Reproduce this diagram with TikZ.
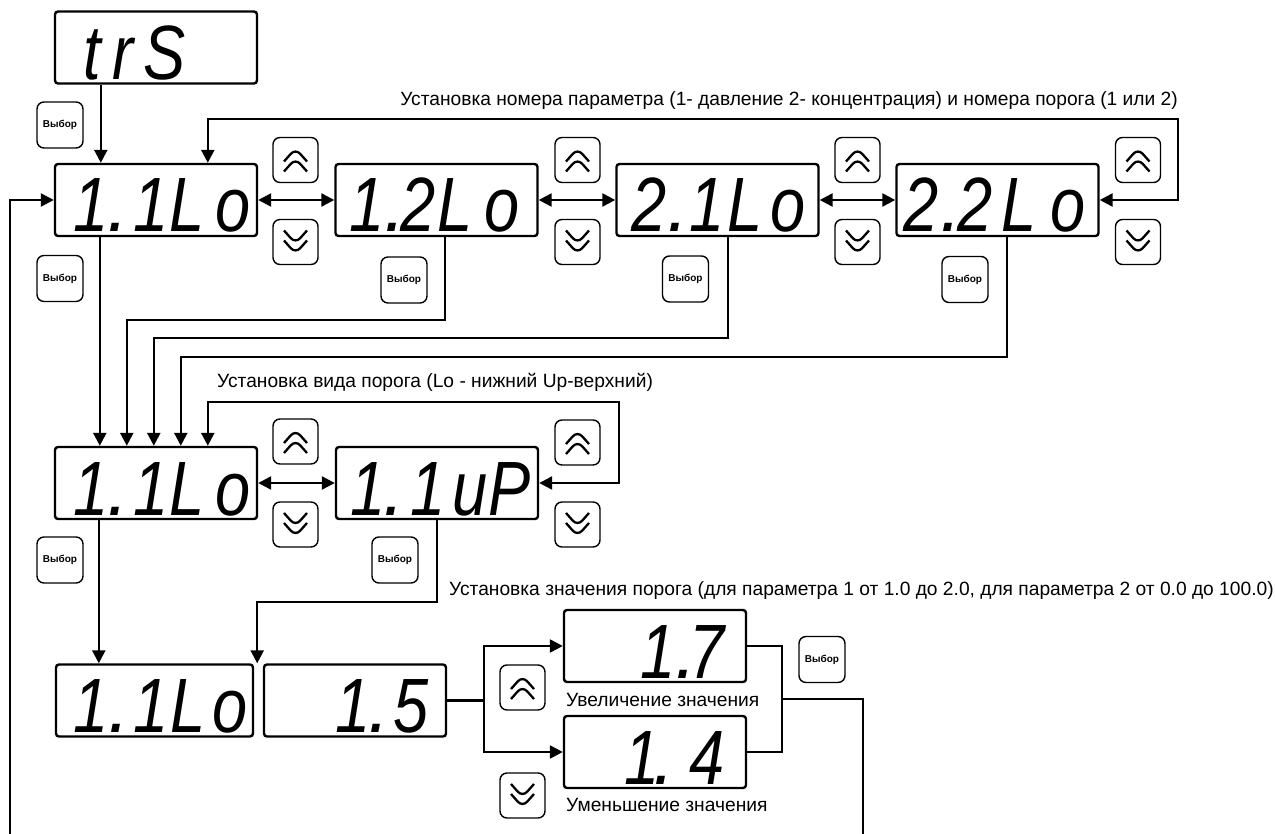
\documentclass[tikz,border=0pt]{standalone}
\usepackage{graphicx}
\usepackage{fontspec}
\setmainfont{Liberation Sans}
\newfontfamily\segfamily{Liberation Sans}
\usetikzlibrary{arrows.meta,calc}
% seven-segment style text: each glyph ends at a given x (pt) inside the display
\newcommand\sgat[2]{\rlap{\hspace*{#1pt}\llap{\scalebox{0.82}[1]{#2}}}}
\newcommand\sgdot[1]{\rlap{\hspace*{#1pt}\llap{.}}}
\newcommand\dtext[2]{\makebox[#1pt][l]{#2}}
\begin{document}
\begin{tikzpicture}[x=1pt,y=-1pt,
  disp/.style={draw, line width=2.4pt, rounded corners=3pt, minimum height=72pt, inner sep=0pt,
    text height=64pt, text depth=0pt, font=\segfamily\itshape\fontsize{77}{77}\selectfont},
  vbtn/.style={draw, line width=1.4pt, rounded corners=7pt, minimum width=46pt, minimum height=46pt,
    inner sep=0pt, font=\bfseries\fontsize{10}{10}\selectfont},
  abtn/.style={draw, line width=1.4pt, rounded corners=7pt, minimum width=45pt, minimum height=45pt, inner sep=0pt},
  upbtn/.style={abtn, path picture={
    \draw[line width=2.3pt] ($(path picture bounding box.center)+(-11.5,1.5)$) -- ++(11.5,-13) -- ++(11.5,13);
    \draw[line width=2.3pt] ($(path picture bounding box.center)+(-11.5,11.5)$) -- ++(11.5,-13) -- ++(11.5,13);}},
  dnbtn/.style={abtn, path picture={
    \draw[line width=2.3pt] ($(path picture bounding box.center)+(-11.5,-1.5)$) -- ++(11.5,13) -- ++(11.5,-13);
    \draw[line width=2.3pt] ($(path picture bounding box.center)+(-11.5,-11.5)$) -- ++(11.5,13) -- ++(11.5,-13);}},
  conn/.style={line width=2.4pt},
  arr/.style={conn, -{Triangle[length=13pt,width=13pt]}},
  darr/.style={conn, {Triangle[length=13pt,width=13pt]}-{Triangle[length=13pt,width=13pt]}},
  lbl/.style={font=\fontsize{19.2}{19.2}\selectfont, inner sep=0pt}
]
\useasboundingbox (0,0) rectangle (1275,834);
\fill[white] (0,0) rectangle (1275,834);

% displays
\node[disp, minimum width=202pt] (trs) at (156,47.5)
  {\dtext{202}{\sgat{46}{t}\sgat{79}{r}\sgat{131}{S}}};
\node[disp, minimum width=202pt] (a1) at (156,200)
  {\dtext{202}{\sgat{54}{1}\sgdot{73.5}\sgat{114}{1}\sgat{150}{L}\sgat{196}{o}}};
\node[disp, minimum width=202pt] (b1) at (436.5,200)
  {\dtext{202}{\sgat{49}{1}\sgdot{70}\sgat{100}{2}\sgat{137}{L}\sgat{184}{o}}};
\node[disp, minimum width=202pt] (c1) at (717.5,200)
  {\dtext{202}{\sgat{50}{2}\sgdot{72.5}\sgat{108}{1}\sgat{146}{L}\sgat{189}{o}}};
\node[disp, minimum width=202pt] (d1) at (997.5,200)
  {\dtext{202}{\sgat{42}{2}\sgdot{65}\sgat{96}{2}\sgat{140}{L}\sgat{189}{o}}};
\node[disp, minimum width=202pt] (a2) at (156,483)
  {\dtext{202}{\sgat{54}{1}\sgdot{73.5}\sgat{114}{1}\sgat{150}{L}\sgat{196}{o}}};
\node[disp, minimum width=202pt] (b2) at (437,483)
  {\dtext{202}{\sgat{50}{1}\sgdot{69}\sgat{110}{1}\sgat{152}{u}\sgat{195}{P}}};
\node[disp, minimum width=197pt] (a3) at (154.5,700.5)
  {\dtext{197}{\sgat{53}{1}\sgdot{73.5}\sgat{113}{1}\sgat{150}{L}\sgat{192}{o}}};
\node[disp, minimum width=182pt] (b3) at (355,700.5)
  {\dtext{182}{\sgat{107}{1}\sgdot{126}\sgat{165}{5}}};
\node[disp, minimum width=182pt] (c3) at (655,646)
  {\dtext{182}{\sgat{112}{1}\sgdot{133}\sgat{161}{7}}};
\node[disp, minimum width=182pt] (d3) at (655,752)
  {\dtext{182}{\sgat{96}{1}\sgdot{111}\sgat{161}{4}}};

% select buttons
\node[vbtn] (s0) at (60,125) {Выбор};
\node[vbtn] (s1) at (60,278.5) {Выбор};
\node[vbtn] (s2) at (404,280) {Выбор};
\node[vbtn] (s3) at (685.5,279) {Выбор};
\node[vbtn] (s4) at (965,279.5) {Выбор};
\node[vbtn] (s5) at (60,560) {Выбор};
\node[vbtn] (s6) at (395,560) {Выбор};
\node[vbtn] (s7) at (822,659.5) {Выбор};

% up / down buttons
\node[upbtn] (u1) at (295.5,160) {};
\node[upbtn] (u2) at (577.5,160) {};
\node[upbtn] (u3) at (857.5,160) {};
\node[upbtn] (u4) at (1138,160) {};
\node[dnbtn] (v1) at (295.5,242) {};
\node[dnbtn] (v2) at (577.5,242) {};
\node[dnbtn] (v3) at (857.5,242) {};
\node[dnbtn] (v4) at (1138,242) {};
\node[upbtn] (u5) at (295.5,441.5) {};
\node[upbtn] (u6) at (577.5,442.5) {};
\node[dnbtn] (v5) at (295.5,524.5) {};
\node[dnbtn] (v6) at (577.5,524.5) {};
\node[upbtn] (u7) at (522.5,687.5) {};
\node[dnbtn] (v7) at (522.5,795.5) {};

% labels
\node[lbl, anchor=east] (l1) at (1178,101) {Установка номера параметра (1- давление 2- концентрация) и номера порога (1 или 2)};
\node[lbl, anchor=west] (l2) at (217,382) {Установка вида порога (Lo - нижний Up-верхний)};
\node[lbl, anchor=west] (l3) at (449,591) {Установка значения порога (для параметра 1 от 1.0 до 2.0, для параметра 2 от 0.0 до 100.0)};
\node[lbl, anchor=west] (l4) at (566,700) {Увеличение значения};
\node[lbl, anchor=west] (l5) at (566,805) {Уменьшение значения};

% connectors row 1
\draw[arr] ([xshift=47pt]trs.south west) -- ([xshift=47pt]a1.north west);
\coordinate (t1) at (1178,119);
\draw[darr] (d1.east) -| (t1) -| ([xshift=154pt]a1.north west);
\draw[darr] (a1.east) -- (b1.west);
\draw[darr] (b1.east) -- (c1.west);
\draw[darr] (c1.east) -- (d1.west);

% row 1 -> row 2
\draw[arr] ([xshift=46pt]a1.south west) -- ([xshift=46pt]a2.north west);
\draw[arr] ([xshift=8.5pt]b1.south) -- ++(0,83) -| ([xshift=73pt]a2.north west);
\draw[arr] ([xshift=10.5pt]c1.south) -- ++(0,101) -| ([xshift=100pt]a2.north west);
\draw[arr] ([xshift=9.5pt]d1.south) -- ++(0,120) -| ([xshift=127pt]a2.north west);
\draw[darr] (b2.east) -- ++(80,0) -- ++(0,-81) -| ([xshift=154pt]a2.north west);
\draw[darr] (a2.east) -- (b2.west);

% row 2 -> row 3
\draw[arr] ([xshift=45pt]a2.south west) -- ([xshift=44pt]a3.north west);
\draw[arr] (b2.south) -- ++(0,82) -| ([xshift=3pt]a3.north east);

% row 3
\draw[conn] (b3.east) -- ++(37,0) coordinate (j1);
\draw[arr] (j1) |- (c3.west);
\draw[arr] (j1) |- (d3.west);
\draw[conn] (c3.east) -- ++(35,0) |- (d3.east);
\coordinate (br) at (863,834);
\coordinate (bl) at (10,834);
\draw[conn] ($(c3.east)!0.5!(d3.east)+(35,0)$) -| (br);
\draw[arr] (bl) |- (a1.west);
\end{tikzpicture}
\end{document}
